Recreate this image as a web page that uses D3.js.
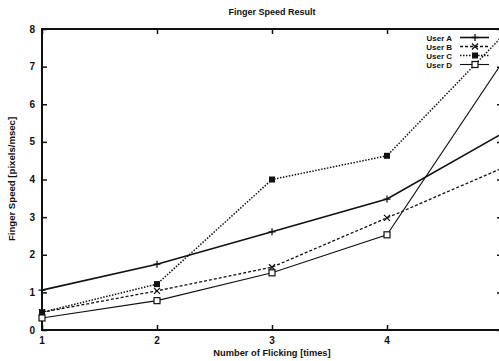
<!DOCTYPE html>
<html><head><meta charset="utf-8">
<script src="https://cdn.jsdelivr.net/npm/d3@7"></script>
<style>
html,body{margin:0;padding:0;background:#fff;}
svg{display:block;}
text{font-family:"Liberation Sans",Arial,sans-serif;fill:#111;}
</style></head>
<body>
<svg id="c" width="499" height="361"></svg>
<script>
const flicks = [1, 2, 3, 4, 5];
const userA = [1.06, 1.75, 2.61, 3.48, 5.22];
const userB = [0.47, 1.04, 1.67, 2.98, 4.3];
const userC = [0.47, 1.22, 4.0, 4.63, 7.8];
const userD = [0.32, 0.78, 1.52, 2.53, 7.1];
const seriesNames = ["User A", "User B", "User C", "User D"];
const yTicks = [0, 1, 2, 3, 4, 5, 6, 7, 8];
const xTicks = [1, 2, 3, 4, 5];
const xTickLabels = ["1", "2", "3", "4"];

const svg = d3.select("#c");
const W = 499;
const L = 42, R = 502, T = 29, B = 330;
const x = d3.scaleLinear().domain([1, 5]).range([L, R]);
const y = d3.scaleLinear().domain([0, 8]).range([B, T]);

// frame
svg.append("rect").attr("x", L).attr("y", T).attr("width", R - L).attr("height", B - T)
  .attr("fill", "none").attr("stroke", "#111").attr("stroke-width", 2);

// axes with inward ticks
const gl = svg.append("g").attr("transform", `translate(${L},0)`)
  .call(d3.axisRight(y).tickValues(yTicks).tickSize(5).tickFormat(""));
const gr = svg.append("g").attr("transform", `translate(${R},0)`)
  .call(d3.axisLeft(y).tickValues(yTicks).tickSize(5).tickFormat(""));
const gb = svg.append("g").attr("transform", `translate(0,${B})`)
  .call(d3.axisTop(x).tickValues(xTicks).tickSize(5).tickFormat(""));
const gt = svg.append("g").attr("transform", `translate(0,${T})`)
  .call(d3.axisBottom(x).tickValues(xTicks).tickSize(5).tickFormat(""));
[gl, gr, gb, gt].forEach(g => {
  g.select(".domain").remove();
  g.selectAll("line").attr("stroke", "#111").attr("stroke-width", 1.5);
});

// tick labels
svg.append("g").selectAll("text").data(yTicks).join("text")
  .attr("x", L - 7).attr("y", d => y(d) + 3.5).attr("text-anchor", "end")
  .attr("font-size", 10).attr("font-weight", "bold").text(d => d);
svg.append("g").selectAll("text").data(xTickLabels).join("text")
  .attr("x", d => x(+d)).attr("y", B + 14).attr("text-anchor", "middle")
  .attr("font-size", 10).attr("font-weight", "bold").text(d => d);

// titles
svg.append("text").attr("x", 272).attr("y", 15).attr("text-anchor", "middle")
  .attr("font-size", 9).attr("font-weight", "bold").text("Finger Speed Result");
svg.append("text").attr("x", 272).attr("y", 356).attr("text-anchor", "middle")
  .attr("font-size", 9.3).attr("font-weight", "bold").text("Number of Flicking [times]");
svg.append("text").attr("transform", "translate(15,179) rotate(-90)").attr("text-anchor", "middle")
  .attr("font-size", 9.6).attr("font-weight", "bold").text("Finger Speed [pixels/msec]");

const series = [
  {name: seriesNames[0], vals: userA, dash: null, w: 1.6, mark: "plus"},
  {name: seriesNames[1], vals: userB, dash: "3,2", w: 1.3, mark: "cross"},
  {name: seriesNames[2], vals: userC, dash: "1.5,1.5", w: 1.5, mark: "fsq"},
  {name: seriesNames[3], vals: userD, dash: null, w: 1.1, mark: "osq"}
];

function drawMark(g, m, cx, cy) {
  const s = 3.5;
  if (m === "plus") {
    g.append("path").attr("d", `M${cx - s},${cy}H${cx + s}M${cx},${cy - s}V${cy + s}`)
      .attr("stroke", "#111").attr("stroke-width", 1.3);
  } else if (m === "cross") {
    g.append("path").attr("d", `M${cx - 3},${cy - 3}L${cx + 3},${cy + 3}M${cx - 3},${cy + 3}L${cx + 3},${cy - 3}`)
      .attr("stroke", "#111").attr("stroke-width", 1.3);
  } else if (m === "fsq") {
    g.append("rect").attr("x", cx - 3).attr("y", cy - 3).attr("width", 6).attr("height", 6).attr("fill", "#111");
  } else {
    g.append("rect").attr("x", cx - 3).attr("y", cy - 3).attr("width", 6).attr("height", 6)
      .attr("fill", "#fff").attr("stroke", "#111").attr("stroke-width", 1.2);
  }
}

const line = d3.line().x((d, i) => x(flicks[i])).y(d => y(d));
series.forEach((s, k) => {
  const g = svg.append("g");
  g.append("path").attr("d", line(s.vals)).attr("fill", "none").attr("stroke", "#111")
    .attr("stroke-width", s.w).attr("stroke-dasharray", s.dash);
  s.vals.forEach((v, i) => { if (x(flicks[i]) < W - 4) drawMark(g, s.mark, x(flicks[i]), y(v)); });
  // legend
  const ly = 37.5 + k * 9;
  svg.append("text").attr("x", 452).attr("y", ly + 3).attr("text-anchor", "end")
    .attr("font-size", 8).attr("font-weight", "bold").text(s.name);
  const lg = svg.append("g");
  lg.append("path").attr("d", `M460,${ly}H489`).attr("stroke", "#111")
    .attr("stroke-width", s.w).attr("stroke-dasharray", s.dash);
  drawMark(lg, s.mark, 475, ly);
});
</script>
</body></html>
